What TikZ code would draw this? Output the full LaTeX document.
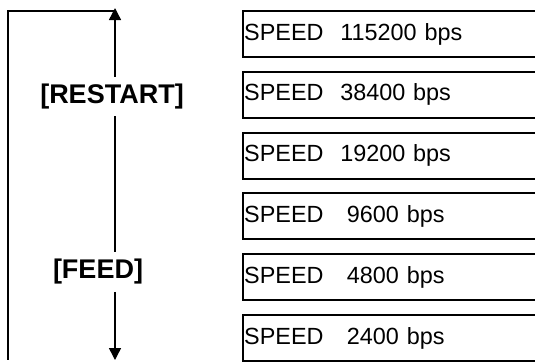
\documentclass[tikz,border=0pt]{standalone}
\usepackage{fontspec}
\setmainfont{Liberation Sans}
\usetikzlibrary{arrows.meta, positioning}

\begin{document}
\begin{tikzpicture}[x=0.5pt, y=-0.5pt,
      speedbox/.style={draw, line width=1pt, anchor=north west,
                       minimum height=23pt, inner xsep=0.6pt,
                       text width=170pt, align=left,
                       font=\fontsize{11.7}{13}\selectfont},
      keylabel/.style={font=\fontsize{13.5}{15}\selectfont\bfseries,
                       inner sep=0pt, minimum height=19.5pt},
      >={Triangle[width=6pt, length=6pt]}]
    \useasboundingbox (0,0) rectangle (535,361);
    \foreach \rate/\gap [count=\i] in {115200/0.72em, 38400/0.72em,
        19200/0.72em, 9600/1.0em, 4800/1.0em, 2400/1.0em} {
      \node[speedbox] (S\i) at (242, {10+(\i-1)*60.8})
            {SPEED\hspace{\gap}\rate\ bps};
    }
    % Keys
    \node[keylabel] (restart) at (112, 96.5) {[RESTART]};
    \node[keylabel] (feed) at (98, 272) {[FEED]};
    \coordinate (top) at (115, 8);
    \coordinate (bot) at (115, 360);
    \coordinate (corner) at (8, 11);
    \draw[line width=0.7pt, ->] (restart.north -| top) -- (top);
    \draw[line width=0.7pt] (restart.south -| top) -- (feed.north -| top);
    \draw[line width=0.7pt, ->] (feed.south -| top) -- (bot);
    % Return path
    \draw[line width=1pt] (top |- corner) -- (corner) -- (corner |- bot);
  \end{tikzpicture}
\end{document}
